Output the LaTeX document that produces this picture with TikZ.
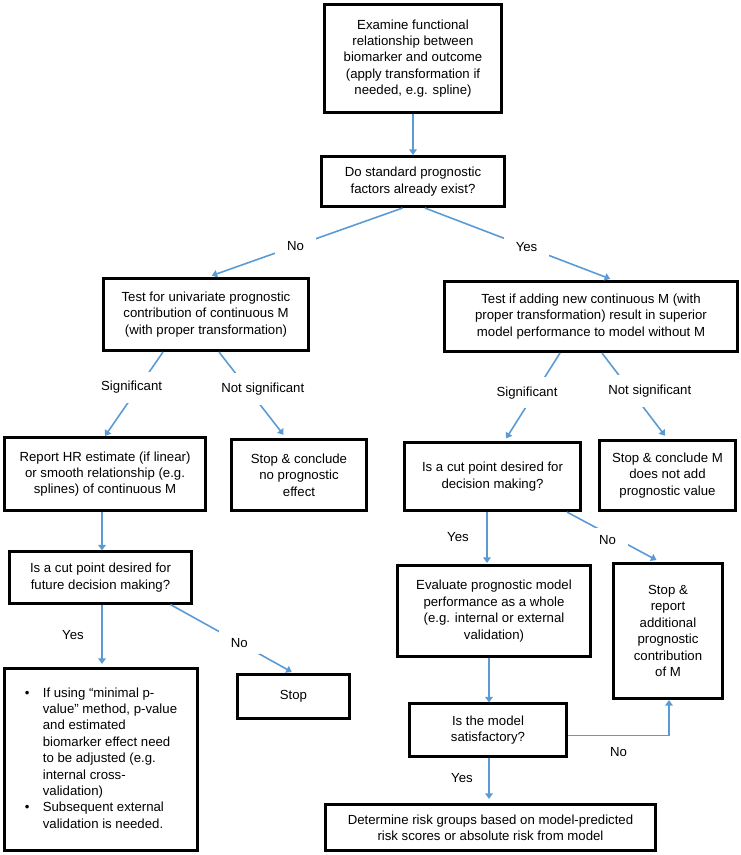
\documentclass[tikz,border=0pt]{standalone}
\usepackage{fontspec}
\setmainfont{Liberation Sans}
\usetikzlibrary{arrows.meta}
\definecolor{linkblue}{HTML}{5B9BD5}
\begin{document}
\begin{tikzpicture}[x=1pt, y=-1pt,
        font=\fontsize{13.2}{16.4}\selectfont,
        box/.style={draw, line width=2.6pt, align=center, inner sep=2pt},
        link/.style={draw=linkblue, line width=1.6pt, -{Triangle[length=5.5pt, width=7.5pt]}},
        lbl/.style={inner sep=2pt},
        cut/.style={fill=white, inner xsep=12pt, inner ysep=7pt},
        steep/.style={inner xsep=2pt, inner ysep=9.5pt}]
            \useasboundingbox (0,0) rectangle (740,855);

            \node[box, minimum width=176.5pt, minimum height=108.5pt] (a) at (413,58.5) {Examine functional\\relationship between\\biomarker and outcome\\(apply transformation if\\needed, e.g. spline)};
            \node[box, minimum width=182.5pt, minimum height=50.5pt] (b) at (413,181.5) {Do standard prognostic\\factors already exist?};
            \draw[link] (a) -- (b);

            \node[box, minimum width=205.5pt, minimum height=72.5pt] (c) at (206,314.5) {Test for univariate prognostic\\contribution of continuous M\\(with proper transformation)};
            \node[box, minimum width=293.5pt, minimum height=70.5pt] (d) at (591,316.5) {Test if adding new continuous M (with\\proper transformation) result in superior\\model performance to model without M};
            \draw[link, shorten >=4pt] ([xshift=-10.5pt]b.south) -- node[cut, pos=0.55] {No} ([xshift=2pt]c.north);
            \draw[link, shorten >=3pt] ([xshift=12pt]b.south) -- node[cut, pos=0.54] {Yes} ([xshift=22pt]d.north);

            \node[box, minimum width=201.5pt, minimum height=73.5pt] (e) at (105,474) {Report HR estimate (if linear)\\or smooth relationship (e.g.\\splines) of continuous M};
            \node[box, minimum width=135.5pt, minimum height=71.5pt] (f) at (299,475) {Stop \& conclude\\no prognostic\\effect};
            \node[box, minimum width=176.5pt, minimum height=68.5pt] (i) at (492.5,476.5) {Is a cut point desired for\\decision making?};
            \node[box, minimum width=136.5pt, minimum height=70.5pt] (j) at (667.5,475.5) {Stop \& conclude M\\does not add\\prognostic value};
            \draw[link] ([xshift=-43pt]c.south) -- node[cut, steep, pos=0.42, xshift=-7pt] {Significant} (e.north);
            \draw[link, shorten >=4pt] ([xshift=13pt]c.south) -- node[cut, steep, pos=0.43, xshift=15pt] {Not significant} ([xshift=-13pt]f.north);
            \draw[link, shorten >=3pt] ([xshift=-31pt]d.south) -- node[cut, steep, pos=0.45, xshift=-8pt] {Significant} ([xshift=12pt]i.north);
            \draw[link, shorten >=4pt] ([xshift=11pt]d.south) -- node[cut, steep, pos=0.44, xshift=19pt] {Not significant} (j.north);

            \node[box, minimum width=182.5pt, minimum height=51.5pt] (g) at (100.5,577.5) {Is a cut point desired for\\future decision making?};
            \draw[link] ([xshift=-3pt]e.south) -- ([xshift=-3pt]e.south |- g.north);

            \node[box, minimum width=193.5pt, minimum height=182.5pt] (h) at (101,759.5) {\begin{tabular}{@{}p{18pt}@{}l@{}}
                \textbullet & If using “minimal p-\\
                & value” method, p-value\\
                & and estimated\\
                & biomarker effect need\\
                & to be adjusted (e.g.\\
                & internal cross-\\
                & validation)\\
                \textbullet & Subsequent external\\
                & validation is needed.
            \end{tabular}};
            \node[box, minimum width=112.5pt, minimum height=44.5pt] (stop) at (293.5,696.5) {Stop};
            \draw[link, shorten >=3pt] ([xshift=1.5pt]g.south) -- node[lbl, left=15.5pt, pos=0.49] {Yes} ([xshift=1.5pt]g.south |- h.north);
            \draw[link, shorten >=2pt] ([xshift=70pt]g.south) -- node[cut, pos=0.56] {No} (stop.north);

            \node[box, minimum width=193.5pt, minimum height=91.5pt] (k) at (494,611) {Evaluate prognostic model\\performance as a whole\\(e.g. internal or external\\validation)};
            \node[box, minimum width=109.5pt, minimum height=135.5pt] (l) at (668,631) {Stop \&\\report\\additional\\prognostic\\contribution\\of M};
            \draw[link, shorten >=1pt] ([xshift=-5.5pt]i.south) -- node[lbl, left=15.5pt, pos=0.48] {Yes} ([xshift=-5.5pt]i.south |- k.north);
            \draw[link, shorten >=4pt] ([xshift=74.5pt]i.south) -- node[cut, pos=0.48, xshift=-4pt, yshift=-4pt] {No} ([xshift=-8pt]l.north);

            \node[box, minimum width=157.5pt, minimum height=52.5pt] (m) at (488,730) {Is the model\\satisfactory?};
            \node[box, minimum width=329.5pt, minimum height=46.5pt] (n) at (490.5,827.5) {Determine risk groups based on model-predicted\\risk scores or absolute risk from model};
            \draw[link] ([xshift=-5pt]k.south) -- ([xshift=-5pt]k.south |- m.north);
            \draw[link] ([yshift=-5.5pt]m.east) -| node[lbl, below=9pt, pos=0.25] {No} ([xshift=1pt]l.south);
            \draw[link, shorten >=4pt] ([xshift=1pt]m.south) -- node[lbl, left=13.5pt, pos=0.45] {Yes} ([xshift=1pt]m.south |- n.north);
        \end{tikzpicture}
\end{document}
